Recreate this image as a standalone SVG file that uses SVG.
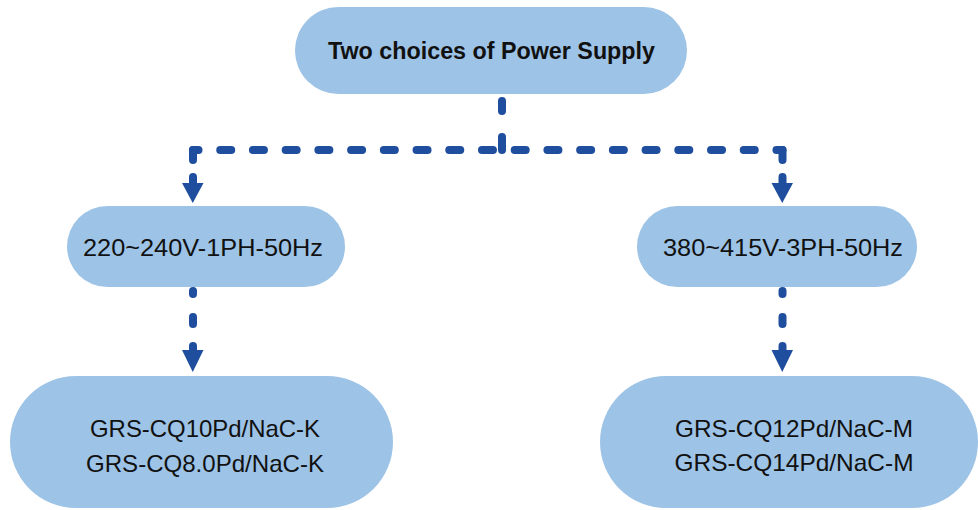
<svg xmlns="http://www.w3.org/2000/svg" width="978" height="510" viewBox="0 0 978 510">
<defs>
<style>
.node{fill:#9DC3E6;}
.t{font-family:"Liberation Sans",Arial,sans-serif;font-size:24px;fill:#111;text-anchor:middle;}
.b{font-weight:bold;font-size:23px;}
.c{stroke:#1F4E9E;stroke-width:8;stroke-linecap:round;fill:none;}
.ah{fill:#1F4E9E;}
</style>
</defs>
<rect width="978" height="510" fill="#fff"/>
<g id="connectors">
<path class="c" d="M502,101V111M502,137V150"/>
<path class="c" d="M193,150H782.5" stroke-dasharray="11 21.72" stroke-dashoffset="5.5"/>
<path class="c" d="M193,150V160M782.5,150V160"/>
<path class="c" d="M193,177V186M782.5,177V186"/>
<polygon class="ah" points="182,183 203.5,183 192.75,203"/>
<polygon class="ah" points="771.5,183 793,183 782.25,203"/>
<path class="c" d="M193,291V294M193,317V324M193,346V352"/>
<path class="c" d="M782.5,291V294M782.5,317V324M782.5,346V352"/>
<polygon class="ah" points="182,350 203.5,350 192.75,372"/>
<polygon class="ah" points="771.5,350 793,350 782.25,372"/>
</g>
<g id="node-top">
<rect class="node" x="295" y="7" width="392" height="87" rx="43.5"/>
<text class="t b" x="491.5" y="59" textLength="327" lengthAdjust="spacingAndGlyphs">Two choices of Power Supply</text>
</g>
<g id="node-1ph">
<rect class="node" x="67" y="206" width="278" height="81" rx="40.5"/>
<text class="t" x="203" y="256" textLength="240" lengthAdjust="spacingAndGlyphs">220~240V-1PH-50Hz</text>
</g>
<g id="node-3ph">
<rect class="node" x="637" y="206" width="280" height="81" rx="40.5"/>
<text class="t" x="783" y="256" textLength="240" lengthAdjust="spacingAndGlyphs">380~415V-3PH-50Hz</text>
</g>
<g id="node-models-k">
<rect class="node" x="10" y="376" width="383" height="132" rx="66"/>
<text class="t" x="205" y="437" textLength="230" lengthAdjust="spacingAndGlyphs">GRS-CQ10Pd/NaC-K</text>
<text class="t" x="205" y="472" textLength="238" lengthAdjust="spacingAndGlyphs">GRS-CQ8.0Pd/NaC-K</text>
</g>
<g id="node-models-m">
<rect class="node" x="600" y="376" width="378" height="132" rx="66"/>
<text class="t" x="794" y="437" textLength="238" lengthAdjust="spacingAndGlyphs">GRS-CQ12Pd/NaC-M</text>
<text class="t" x="794" y="471" textLength="239" lengthAdjust="spacingAndGlyphs">GRS-CQ14Pd/NaC-M</text>
</g>
</svg>
